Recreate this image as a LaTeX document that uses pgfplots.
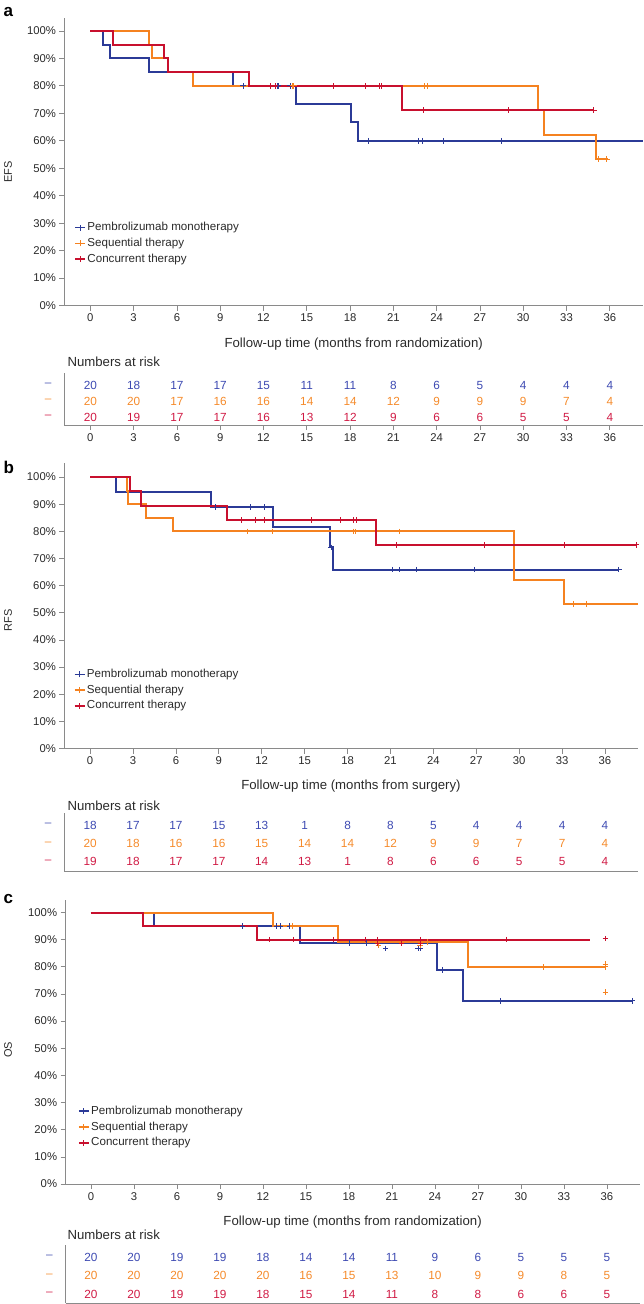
\documentclass[border=0pt]{standalone}
\usepackage{fontspec}
\setmainfont{Liberation Sans}
\usepackage{pgfplots}
\pgfplotsset{compat=1.18}
\definecolor{cBlue}{HTML}{2B3A97}
\definecolor{cOrange}{HTML}{F58220}
\definecolor{cRed}{HTML}{C8102E}
\definecolor{tBlue}{HTML}{3D4AB2}
\definecolor{tOrange}{HTML}{F58A2A}
\definecolor{tRed}{HTML}{D01A44}
\definecolor{dBlue}{HTML}{5560B8}
\definecolor{dOrange}{HTML}{F69640}
\definecolor{dRed}{HTML}{D63058}
\definecolor{axgray}{HTML}{8A8A8A}
\definecolor{txt}{HTML}{2A2A2A}
\newcommand\tickfont{\fontsize{11.3}{13}\selectfont}
\newcommand\legfont{\fontsize{11.6}{13}\selectfont}
\newcommand\numfont{\fontsize{11.8}{13}\selectfont}
\newcommand\labfont{\fontsize{13.2}{15}\selectfont}
\pgfplotsset{
  base/.style={scale only axis, axis lines=left, clip=false,
    axis line style={-, axgray, line width=0.9pt},
    every outer x axis line/.append style={-},
    every outer y axis line/.append style={-},
    tick style={axgray, line width=0.7pt}, tick align=outside, major tick length=5pt,
    tick label style={font=\tickfont, text=txt},
    /pgf/number format/assume math mode=true},
  km/.style={base, xtick={0,3,...,36}, ytick={0,10,...,100}, ymin=0,
    yticklabel={\pgfmathprintnumber{\tick}\%},
    legend style={draw=none, fill=none, font=\legfont, text=txt, legend cell align=left,
      row sep=1.6pt, inner sep=0pt, nodes={inner sep=1.6pt, text height=8.5pt, text depth=2.5pt}}},
  kmline/.style={const plot, line width=2pt, forget plot, mark=none},
  cens/.style={only marks, mark=+, mark size=2.8pt, mark options={line width=0.9pt, solid}, forget plot},
  risk/.style={base, ytick={1,2,3}, ytick style={draw=none},
    yticklabels={\textcolor{dRed}{–},\textcolor{dOrange}{–},\textcolor{dBlue}{–}},
    yticklabel style={xshift=-4.5pt, font=\numfont}},
  row/.style={draw=none, forget plot, nodes near coords, point meta=explicit symbolic,
    every node near coord/.append style={anchor=center, text=#1, font=\numfont, text height=8.4pt, text depth=0pt}},
  legB/.style={legend image code/.code={\draw[cBlue,line width=1.5pt] (0pt,0pt)--(10pt,0pt); \draw[cBlue,line width=0.9pt] (5pt,-3pt)--(5pt,3pt);}},
  legO/.style={legend image code/.code={\draw[cOrange,line width=1.5pt] (0pt,0pt)--(10pt,0pt); \draw[cOrange,line width=0.9pt] (5pt,-3pt)--(5pt,3pt);}},
  legR/.style={legend image code/.code={\draw[cRed,line width=1.5pt] (0pt,0pt)--(10pt,0pt); \draw[cRed,line width=0.9pt] (5pt,-3pt)--(5pt,3pt);}},
}
\begin{document}
\begin{tikzpicture}
\path[use as bounding box] (0pt,0pt) rectangle (643pt,-1304pt);
% ---------------- panel a
\node[anchor=base west, font=\fontsize{17}{18}\selectfont\bfseries] at (0pt,-16pt) {a};
\node[rotate=90, anchor=center, font=\fontsize{11}{13}\selectfont, text=txt] at (8pt,-172pt) {EFS};
\begin{axis}[km, at={(64.5pt,-18pt)}, anchor=north west, width=578.5pt, height=287.5pt,
  xmin=-1.79, xmax=38.3, ymax=104.7,
  legend style={at={(axis cs:-1.12,31.06)}, anchor=north west}]
\addplot[kmline, cBlue] coordinates {(0,100)(0.85,95)(1.36,90)(4.06,85)(9.87,80)(14.24,73.3)(18.07,66.7)(18.58,60)(38.3,60)};
\addplot[kmline, cOrange] coordinates {(0,100)(4.1,95)(4.25,90)(5.39,85)(7.1,80)(31.04,71.1)(31.47,62.2)(35.02,53.3)(35.85,53.3)};
\addplot[kmline, cRed] coordinates {(0,100)(1.56,95)(5.11,90)(5.41,85)(11.03,80)(21.58,71.1)(34.9,71.1)};
\addplot[cens, cBlue] coordinates {(10.6,80)(12.95,80)(13.04,80)(13.85,80)(19.27,60)(22.74,60)(23.04,60)(24.47,60)(28.5,60)};
\addplot[cens, cOrange] coordinates {(14.0,80)(14.1,80)(23.13,80)(23.36,80)(35.2,53.3)(35.8,53.3)};
\addplot[cens, cRed] coordinates {(12.46,80)(12.8,80)(16.85,80)(19.1,80)(20.04,80)(20.15,80)(23.1,71.1)(28.97,71.1)(34.9,71.1)};
\addlegendimage{legB}\addlegendentry{Pembrolizumab monotherapy}
\addlegendimage{legO}\addlegendentry{Sequential therapy}
\addlegendimage{legR}\addlegendentry{Concurrent therapy}
\end{axis}
\node[anchor=base, font=\labfont, text=txt] at (353.7pt,-347.7pt) {Follow-up time (months from randomization)};
\node[anchor=base west, font=\labfont, text=txt] at (64pt,-366.7pt) {Numbers at risk};
\begin{axis}[risk, at={(64.5pt,-373pt)}, anchor=north west, width=578.5pt, height=52pt,
  xmin=-1.79, xmax=38.3, ymin=0.5, ymax=3.75, xtick={0,3,...,36}]
\addplot[row=tBlue] coordinates {(0,3)[20](3,3)[18](6,3)[17](9,3)[17](12,3)[15](15,3)[11](18,3)[11](21,3)[8](24,3)[6](27,3)[5](30,3)[4](33,3)[4](36,3)[4]};
\addplot[row=tOrange] coordinates {(0,2)[20](3,2)[20](6,2)[17](9,2)[16](12,2)[16](15,2)[14](18,2)[14](21,2)[12](24,2)[9](27,2)[9](30,2)[9](33,2)[7](36,2)[4]};
\addplot[row=tRed] coordinates {(0,1)[20](3,1)[19](6,1)[17](9,1)[17](12,1)[16](15,1)[13](18,1)[12](21,1)[9](24,1)[6](27,1)[6](30,1)[5](33,1)[5](36,1)[4]};
\end{axis}
% ---------------- panel b
\node[anchor=base west, font=\fontsize{17}{18}\selectfont\bfseries] at (0pt,-473pt) {b};
\node[rotate=90, anchor=center, font=\fontsize{11}{13}\selectfont, text=txt] at (8pt,-620pt) {RFS};
\begin{axis}[km, at={(64.4pt,-463pt)}, anchor=north west, width=573.3pt, height=285.5pt,
  xmin=-1.8, xmax=38.29, ymax=105.16,
  legend style={at={(axis cs:-1.15,30.0)}, anchor=north west}]
\addplot[kmline, cBlue] coordinates {(0,100)(1.8,94.4)(8.42,88.9)(12.8,81.5)(16.77,74.1)(16.96,65.9)(36.97,65.9)};
\addplot[kmline, cOrange] coordinates {(0,100)(2.58,95)(2.68,90)(3.92,85)(5.77,80)(29.66,62.2)(33.15,53.3)(38.29,53.3)};
\addplot[kmline, cRed] coordinates {(0,100)(2.8,94.7)(3.58,89.5)(9.54,84.2)(19.96,75)(38.26,75)};
\addplot[cens, cBlue] coordinates {(8.73,88.9)(11.24,88.9)(12.18,88.9)(16.85,74.1)(21.13,65.9)(21.64,65.9)(22.83,65.9)(26.9,65.9)(36.97,65.9)};
\addplot[cens, cOrange] coordinates {(11.01,80)(12.76,80)(18.42,80)(18.57,80)(21.6,80)(33.8,53.3)(34.73,53.3)};
\addplot[cens, cRed] coordinates {(10.55,84.2)(11.55,84.2)(12.22,84.2)(15.46,84.2)(17.49,84.2)(18.4,84.2)(18.59,84.2)(21.43,75)(27.6,75)(33.15,75)(38.2,75)};
\addlegendimage{legB}\addlegendentry{Pembrolizumab monotherapy}
\addlegendimage{legO}\addlegendentry{Sequential therapy}
\addlegendimage{legR}\addlegendentry{Concurrent therapy}
\end{axis}
\node[anchor=base, font=\labfont, text=txt] at (351pt,-789.7pt) {Follow-up time (months from surgery)};
\node[anchor=base west, font=\labfont, text=txt] at (64pt,-810pt) {Numbers at risk};
\begin{axis}[risk, at={(64.4pt,-813pt)}, anchor=north west, width=573.3pt, height=58.7pt,
  xmin=-1.8, xmax=38.29, ymin=0.455, ymax=3.65, xtick=\empty]
\addplot[row=tBlue] coordinates {(0,3)[18](3,3)[17](6,3)[17](9,3)[15](12,3)[13](15,3)[1](18,3)[8](21,3)[8](24,3)[5](27,3)[4](30,3)[4](33,3)[4](36,3)[4]};
\addplot[row=tOrange] coordinates {(0,2)[20](3,2)[18](6,2)[16](9,2)[16](12,2)[15](15,2)[14](18,2)[14](21,2)[12](24,2)[9](27,2)[9](30,2)[7](33,2)[7](36,2)[4]};
\addplot[row=tRed] coordinates {(0,1)[19](3,1)[18](6,1)[17](9,1)[17](12,1)[14](15,1)[13](18,1)[1](21,1)[8](24,1)[6](27,1)[6](30,1)[5](33,1)[5](36,1)[4]};
\end{axis}
% ---------------- panel c
\node[anchor=base west, font=\fontsize{17}{18}\selectfont\bfseries] at (0pt,-903pt) {c};
\node[rotate=90, anchor=center, font=\fontsize{11}{13}\selectfont, text=txt] at (8pt,-1050pt) {OS};
\begin{axis}[km, at={(65.6pt,-900pt)}, anchor=north west, width=574.1pt, height=284pt,
  xmin=-1.77, xmax=38.29, ymax=104.6,
  legend style={at={(axis cs:-0.91,29.5)}, anchor=north west}]
\addplot[kmline, cBlue] coordinates {(0,100)(4.4,95)(14.58,88.7)(24.17,78.9)(25.98,67.5)(37.8,67.5)};
\addplot[kmline, cOrange] coordinates {(0,100)(12.68,95)(17.26,89.2)(26.33,80)(35.9,80)};
\addplot[kmline, cRed] coordinates {(0,100)(3.6,95)(11.56,90)(34.8,90)};
\addplot[cens, cBlue] coordinates {(10.58,95)(12.96,95)(13.19,95)(13.84,95)(18.07,88.7)(19.24,88.7)(20.56,86.8)(22.84,86.8)(23.0,86.8)(24.54,78.9)(28.6,67.5)(37.8,67.5)};
\addplot[cens, cOrange] coordinates {(14.07,95)(20.05,88)(22.96,88)(23.5,89.2)(31.6,80)(35.9,80)(35.9,81)(35.9,70.7)};
\addplot[cens, cRed] coordinates {(12.42,90)(14.12,90)(16.91,90)(19.17,90)(20.0,90)(20.0,88.6)(21.68,88.6)(23.0,88.6)(23.0,90)(29.0,90)(35.9,90.4)};
\addlegendimage{legB}\addlegendentry{Pembrolizumab monotherapy}
\addlegendimage{legO}\addlegendentry{Sequential therapy}
\addlegendimage{legR}\addlegendentry{Concurrent therapy}
\end{axis}
\node[anchor=base, font=\labfont, text=txt] at (352.6pt,-1225.5pt) {Follow-up time (months from randomization)};
\node[anchor=base west, font=\labfont, text=txt] at (64pt,-1239.5pt) {Numbers at risk};
\begin{axis}[risk, at={(65.6pt,-1245pt)}, anchor=north west, width=574.1pt, height=58pt,
  xmin=-1.77, xmax=38.29, ymin=0.51, ymax=3.65, xtick=\empty]
\addplot[row=tBlue] coordinates {(0,3)[20](3,3)[20](6,3)[19](9,3)[19](12,3)[18](15,3)[14](18,3)[14](21,3)[11](24,3)[9](27,3)[6](30,3)[5](33,3)[5](36,3)[5]};
\addplot[row=tOrange] coordinates {(0,2)[20](3,2)[20](6,2)[20](9,2)[20](12,2)[20](15,2)[16](18,2)[15](21,2)[13](24,2)[10](27,2)[9](30,2)[9](33,2)[8](36,2)[5]};
\addplot[row=tRed] coordinates {(0,1)[20](3,1)[20](6,1)[19](9,1)[19](12,1)[18](15,1)[15](18,1)[14](21,1)[11](24,1)[8](27,1)[8](30,1)[6](33,1)[6](36,1)[5]};
\end{axis}
\end{tikzpicture}
\end{document}
